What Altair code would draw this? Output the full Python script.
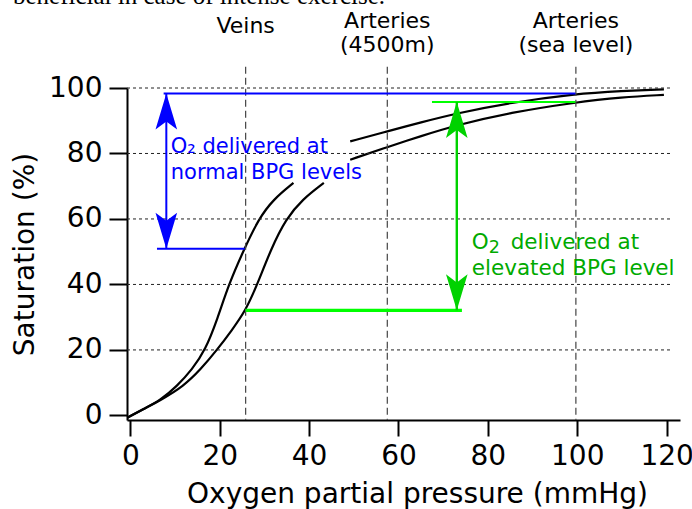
import altair as alt
import pandas as pd

# ---------------- data ----------------
# normal BPG curve (left one); its middle part is hidden behind the blue label
normal_low_p = [-0.7, 3, 6.7, 10.4, 13.8, 16.8, 19.5, 22, 25.5, 28.7, 32, 36.5]
normal_low_s = [-0.7, 2, 4.6, 8.9, 14, 20, 29.5, 40, 50.9, 60, 66, 71]
normal_high_p = [49.2, 57.4, 65, 73.1, 85, 99.5, 110, 119.4]
normal_high_s = [83.7, 86.7, 89.5, 92.3, 95.5, 98.2, 99.1, 99.6]

# elevated BPG curve (right one)
elevated_low_p = [-0.7, 3, 6.7, 11.9, 15.7, 19.4, 22.7, 25.8, 28.4, 31.5, 34.8, 38.5, 43.3]
elevated_low_s = [-0.7, 2, 4.6, 8.9, 14, 20, 26, 32, 40, 50.9, 60, 66, 71]
elevated_high_p = [49.2, 57.4, 65, 73.1, 85, 99.5, 110, 119.4]
elevated_high_s = [78.1, 81.9, 85.3, 88.7, 92.5, 95.6, 97.2, 97.9]

x_ticks = [0, 20, 40, 60, 80, 100, 120]
y_ticks = [0, 20, 40, 60, 80, 100]
grid_levels = [20, 40, 60, 80, 100]

site_pressure = [25.8, 57.5, 99.7]          # Veins, Arteries (4500m), Arteries (sea level)
site_line1 = ["Veins", "Arteries", "Arteries"]
site_line2 = ["", "(4500m)", "(sea level)"]

normal_delivery_p = 8.05
normal_top_sat, normal_bottom_sat = 98.3, 50.9
elevated_delivery_p = 73.05
elevated_top_sat, elevated_bottom_sat = 95.7, 32.1

# ---------------- styling ----------------
FONT = "DejaVu Sans"
BLUE = "#0000ff"
GREEN_LINE = "#00ff00"
GREEN_ARROW = "#00d200"
GREEN_TEXT = "#00aa00"

xsc = alt.Scale(domain=[-0.75, 123], nice=False, zero=False)
ysc = alt.Scale(domain=[-1.4, 100], nice=False, zero=False)

x_axis = alt.Axis(values=x_ticks, title="Oxygen partial pressure (mmHg)", grid=False,
                  domainColor="black", domainWidth=2, tickColor="black", tickWidth=2, tickSize=16,
                  labelFont=FONT, labelFontSize=28, labelColor="black", labelPadding=6,
                  labelFlush=False, labelOverlap=False,
                  titleFont=FONT, titleFontSize=28, titleFontWeight="normal", titleColor="black",
                  titleX=290, titleY=82, titleBaseline="alphabetic", titleAlign="center")
y_axis = alt.Axis(values=y_ticks, title="Saturation (%)", grid=False,
                  domainColor="black", domainWidth=2, tickColor="black", tickWidth=2, tickSize=18,
                  labelFont=FONT, labelFontSize=28, labelColor="black", labelPadding=7,
                  labelFlush=False, labelOverlap=False,
                  titleFont=FONT, titleFontSize=28, titleFontWeight="normal", titleColor="black",
                  titleAngle=270, titleX=-94, titleY=166, titleBaseline="alphabetic", titleAlign="center")


def X(f):
    return alt.X(f, type="quantitative", scale=xsc, axis=x_axis)


def Y(f):
    return alt.Y(f, type="quantitative", scale=ysc, axis=y_axis)


# curves
pieces = []
for key, ps, ss in [("n1", normal_low_p, normal_low_s), ("n2", normal_high_p, normal_high_s),
                    ("e1", elevated_low_p, elevated_low_s), ("e2", elevated_high_p, elevated_high_s)]:
    pieces.append(pd.DataFrame({"p": ps, "s": ss, "piece": key}))
curve_df = pd.concat(pieces, ignore_index=True)

curves = alt.Chart(curve_df).mark_line(color="black", strokeWidth=2.2, interpolate="basis").encode(
    x=X("p"), y=Y("s"), detail="piece:N")

# dotted horizontal grid
grid_df = pd.DataFrame({"y": grid_levels, "x1": -0.75, "x2": 121})
grid = alt.Chart(grid_df).mark_rule(color="#222222", strokeWidth=1, strokeDash=[3, 3]).encode(
    x=X("x1"), x2="x2:Q", y=Y("y"))

# dashed vertical site lines
site_df = pd.DataFrame({"p": site_pressure, "top": 106.5, "bottom": -1.4,
                        "l1": site_line1, "l2": site_line2})
vlines = alt.Chart(site_df).mark_rule(color="#444444", strokeWidth=1.2, strokeDash=[7, 4]).encode(
    x=X("p"), y=Y("top"), y2="bottom:Q")

veins_lbl = alt.Chart(site_df.iloc[[0]]).mark_text(
    font=FONT, fontSize=22, align="center", baseline="alphabetic", color="black").encode(
    x=X("p"), y=alt.value(-54.7), text="l1:N")
art_lbl1 = alt.Chart(site_df.iloc[[1, 2]]).mark_text(
    font=FONT, fontSize=22, align="center", baseline="alphabetic", color="black").encode(
    x=X("p"), y=alt.value(-60), text="l1:N")
art_lbl2 = alt.Chart(site_df.iloc[[1, 2]]).mark_text(
    font=FONT, fontSize=22, align="center", baseline="alphabetic", color="black").encode(
    x=X("p"), y=alt.value(-36), text="l2:N")

# blue (normal BPG) delivery marker
blue_h_df = pd.DataFrame({"x1": [7.45, 5.96], "x2": [99.6, 25.6],
                          "y": [normal_top_sat, normal_bottom_sat]})
blue_h = alt.Chart(blue_h_df).mark_rule(color=BLUE, strokeWidth=2).encode(
    x=X("x1"), x2="x2:Q", y=Y("y"))
blue_v_df = pd.DataFrame({"x": [normal_delivery_p], "y1": [normal_top_sat], "y2": [normal_bottom_sat]})
blue_v = alt.Chart(blue_v_df).mark_rule(color=BLUE, strokeWidth=2).encode(
    x=X("x"), y=Y("y1"), y2="y2:Q")

# green (elevated BPG) delivery marker
green_h_df = pd.DataFrame({"x1": [67.5, 25.8], "x2": [99.6, 74.2],
                           "y": [elevated_top_sat, elevated_bottom_sat], "w": [2, 3.3]})
green_h = alt.Chart(green_h_df).mark_rule(color=GREEN_LINE).encode(
    x=X("x1"), x2="x2:Q", y=Y("y"), size=alt.Size("w:Q", scale=None))
green_v_df = pd.DataFrame({"x": [elevated_delivery_p], "y1": [elevated_top_sat], "y2": [elevated_bottom_sat]})
green_v = alt.Chart(green_v_df).mark_rule(color=GREEN_ARROW, strokeWidth=2.4).encode(
    x=X("x"), y=Y("y1"), y2="y2:Q")

UP = "M0,0 L0.6,2 L0,1.55 L-0.6,2 Z"
DOWN = "M0,0 L0.6,-2 L0,-1.55 L-0.6,-2 Z"


def head(px, sat, shape, color):
    return alt.Chart(pd.DataFrame({"x": [px], "y": [sat]})).mark_point(
        shape=shape, size=1296, filled=True, color=color, opacity=1, strokeWidth=0).encode(
        x=X("x"), y=Y("y"))


heads = [head(normal_delivery_p, normal_top_sat, UP, BLUE),
         head(normal_delivery_p, normal_bottom_sat, DOWN, BLUE),
         head(elevated_delivery_p, elevated_top_sat, UP, GREEN_ARROW),
         head(elevated_delivery_p, elevated_bottom_sat, DOWN, GREEN_ARROW)]

# labels
blue_txt_df = pd.DataFrame({"x": [9.05, 9.05], "y": [80.2, 72.2],
                            "t": ["O\u2082 delivered at", "normal BPG levels"]})
blue_txt = alt.Chart(blue_txt_df).mark_text(font=FONT, fontSize=21, align="left",
                                            baseline="alphabetic", color=BLUE).encode(
    x=X("x"), y=Y("y"), text="t:N")

green_txt_df = pd.DataFrame({"x": [76.4, 85.1, 76.4], "y": [50.9, 50.9, 43.0],
                             "t": ["O", "delivered at", "elevated BPG level"]})
green_txt = alt.Chart(green_txt_df).mark_text(font=FONT, fontSize=21.5, align="left",
                                              baseline="alphabetic", color=GREEN_TEXT).encode(
    x=X("x"), y=Y("y"), text="t:N")
green_sub = alt.Chart(pd.DataFrame({"x": [80.2], "y": [49.7], "t": ["2"]})).mark_text(
    font=FONT, fontSize=17.5, align="left", baseline="alphabetic", color=GREEN_TEXT).encode(
    x=X("x"), y=Y("y"), text="t:N")

top_note = alt.Chart(pd.DataFrame({"t": ["beneficial in case of intense exercise."]})).mark_text(
    font="Liberation Serif", fontSize=25, align="left", baseline="alphabetic", color="black").encode(
    x=alt.value(-114), y=alt.value(-84), text="t:N")

chart = alt.layer(
    curves, grid, vlines, blue_h, blue_v, green_h, green_v, *heads,
    blue_txt, green_txt, green_sub, veins_lbl, art_lbl1, art_lbl2, top_note
).properties(
    width=553, height=332,
    padding={"left": 127, "top": 88, "right": 12, "bottom": 89},
    autosize=alt.AutoSizeParams(type="none"),
    background="white",
).configure_view(stroke=None)

chart.save("out.html", embed_options={"renderer": "svg", "actions": False})
